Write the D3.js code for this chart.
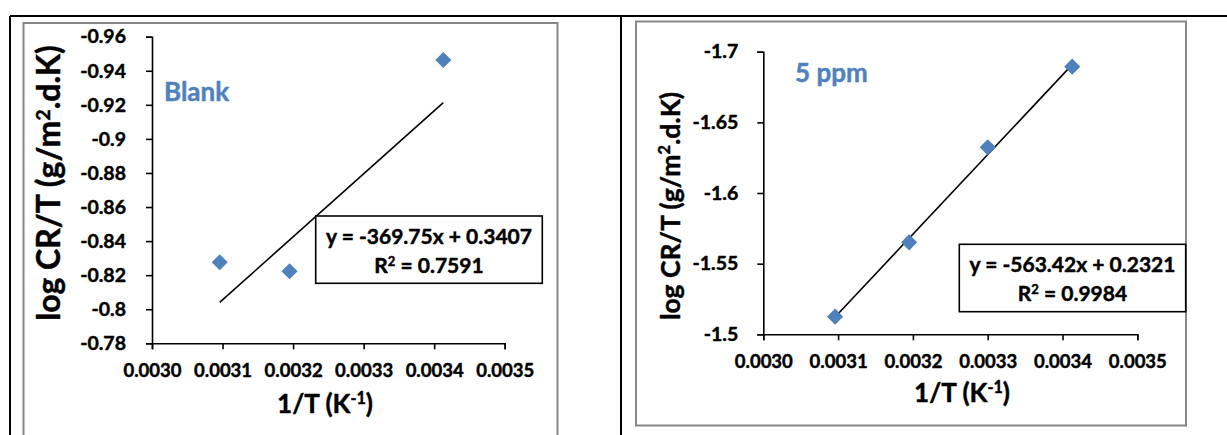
<!DOCTYPE html>
<html>
<head>
<meta charset="utf-8">
<script src="https://cdn.jsdelivr.net/npm/d3@7"></script>
<style>
  html, body { margin: 0; padding: 0; background: #fff; }
  svg { display: block; }
  text { font-family: Lato, "Open Sans", sans-serif; font-weight: 700; paint-order: stroke; stroke-linejoin: round; }
</style>
</head>
<body>
<svg id="chart" width="1227" height="435"></svg>
<script>
// Inverse temperature (1/T, K^-1) for 323, 313, 303 and 293 K
const invTemp = [0.003096, 0.003195, 0.003300, 0.003413];

// log(CR/T) readings for each solution
const blankLogCR = [-0.8276, -0.8223, -0.8499, -0.9463];
const ppm5LogCR  = [-1.5125, -1.5651, -1.6323, -1.6894];

// Linear trend lines (slope, intercept, R²)
const blankFit = { slope: -369.75, intercept: 0.3407, r2: "0.7591" };
const ppm5Fit  = { slope: -563.42, intercept: 0.2321, r2: "0.9984" };

// Axis ticks and their labels
const xTicks = [0.0030, 0.0031, 0.0032, 0.0033, 0.0034, 0.0035];
const xTickLabels = ["0.0030", "0.0031", "0.0032", "0.0033", "0.0034", "0.0035"];
const blankYTicks = [-0.96, -0.94, -0.92, -0.90, -0.88, -0.86, -0.84, -0.82, -0.80, -0.78];
const blankYTickLabels = ["-0.96", "-0.94", "-0.92", "-0.9", "-0.88", "-0.86", "-0.84", "-0.82", "-0.8", "-0.78"];
const ppm5YTicks = [-1.70, -1.65, -1.60, -1.55, -1.50];
const ppm5YTickLabels = ["-1.7", "-1.65", "-1.6", "-1.55", "-1.5"];

const BLUE = "#4f81bd";
const svg = d3.select("#chart");

// Table cell borders
svg.append("path")
  .attr("d", "M10,16H1227M10,16V435M621,16V435")
  .attr("fill", "none").attr("stroke", "#000").attr("stroke-width", 2);

// bold text with a thin outline in its own colour for a heavier weight
function heavy(sel, color) {
  return sel.attr("fill", color).attr("stroke", color).attr("stroke-width", 0.45);
}

function drawPanel(p) {
  const g = svg.append("g");

  // chart frame
  g.append("rect")
    .attr("x", p.frame[0]).attr("y", p.frame[1])
    .attr("width", p.frame[2]).attr("height", p.frame[3])
    .attr("fill", "#fff").attr("stroke", "#878787").attr("stroke-width", 2);

  const x = d3.scaleLinear().domain([0.0030, 0.0035]).range(p.xRange);
  const y = d3.scaleLinear().domain(p.yDomain).range(p.yRange);

  // y axis
  const yAxis = d3.axisLeft(y).tickValues(p.yTicks)
    .tickFormat((d, i) => p.yLabels[i]).tickSize(6).tickSizeOuter(6).tickPadding(p.yPad);
  const ya = g.append("g").attr("transform", `translate(${p.xRange[0]},0)`).call(yAxis);

  // x axis
  const xAxis = d3.axisBottom(x).tickValues(xTicks)
    .tickFormat((d, i) => xTickLabels[i]).tickSize(6).tickSizeOuter(6).tickPadding(p.xPad);
  const xa = g.append("g").attr("transform", `translate(0,${p.yRange[0]})`).call(xAxis);

  [ya, xa].forEach(a => {
    a.attr("font-family", null).attr("font-size", null);
    a.selectAll("path, line").attr("stroke", "#000").attr("stroke-width", 1.6);
  });
  heavy(ya.selectAll("text"), "#000").style("font-size", p.yTickFont + "px");
  heavy(xa.selectAll("text"), "#000").style("font-size", p.xTickFont + "px");

  // trend line over the measured range
  const xs = d3.extent(p.xs);
  const fit = v => p.fit.slope * v + p.fit.intercept;
  g.append("line")
    .attr("x1", x(xs[0])).attr("y1", y(fit(xs[0])))
    .attr("x2", x(xs[1])).attr("y2", y(fit(xs[1])))
    .attr("stroke", "#000").attr("stroke-width", 1.6);

  // data markers (diamonds)
  const diamond = d3.symbol().type(d3.symbolSquare).size(130);
  g.selectAll("path.pt").data(p.xs.map((v, i) => [v, p.ys[i]])).join("path")
    .attr("class", "pt")
    .attr("d", diamond)
    .attr("transform", d => `translate(${x(d[0])},${y(d[1])}) rotate(45)`)
    .attr("fill", BLUE);

  // series label
  heavy(g.append("text").attr("x", p.label[0]).attr("y", p.label[1]), BLUE)
    .style("font-size", p.labelFont + "px").text(p.name);

  // equation box
  const b = p.eqBox;
  g.append("rect").attr("x", b[0]).attr("y", b[1]).attr("width", b[2]).attr("height", b[3])
    .attr("fill", "#fff").attr("stroke", "#000").attr("stroke-width", 1.6);
  const cx = b[0] + b[2] / 2;
  heavy(g.append("text"), "#000").attr("x", cx).attr("y", b[1] + 28).attr("text-anchor", "middle")
    .style("font-size", p.eqFont + "px")
    .text(`y = ${p.fit.slope}x + ${p.fit.intercept}`);
  const r = heavy(g.append("text"), "#000").attr("x", cx).attr("y", b[1] + 57).attr("text-anchor", "middle")
    .style("font-size", p.eqFont + "px");
  r.append("tspan").text("R");
  r.append("tspan").attr("dy", -7).style("font-size", (p.eqFont * 0.62) + "px").text("2");
  r.append("tspan").attr("dy", 7).text(` = ${p.fit.r2}`);

  // x axis title
  const xt = heavy(g.append("text"), "#000").attr("x", p.xTitle[0]).attr("y", p.xTitle[1])
    .attr("text-anchor", "middle").style("font-size", p.titleFont + "px");
  xt.append("tspan").text("1/T (K");
  xt.append("tspan").attr("dy", -9).style("font-size", (p.titleFont * 0.62) + "px").text("-1");
  xt.append("tspan").attr("dy", 9).text(")");

  // y axis title
  const yt = heavy(g.append("text"), "#000")
    .attr("transform", `translate(${p.yTitle[0]},${p.yTitle[1]}) rotate(-90)`)
    .attr("text-anchor", "middle").style("font-size", p.yTitleFont + "px");
  yt.append("tspan").text("log CR/T (g/m");
  yt.append("tspan").attr("dy", -10).style("font-size", (p.yTitleFont * 0.62) + "px").text("2");
  yt.append("tspan").attr("dy", 10).text(".d.K)");
}

drawPanel({
  name: "Blank", xs: invTemp, ys: blankLogCR, fit: blankFit,
  frame: [23.5, 23, 534, 430],
  xRange: [152, 504.7], yRange: [343.3, 36.7], yDomain: [-0.78, -0.96],
  yTicks: blankYTicks, yLabels: blankYTickLabels,
  yTickFont: 19.5, xTickFont: 18.5, yPad: 20, xPad: 15,
  label: [164, 101], labelFont: 26,
  eqBox: [315.7, 216, 226.6, 67.3], eqFont: 21,
  xTitle: [325, 413], titleFont: 26,
  yTitle: [60, 183], yTitleFont: 32
});

drawPanel({
  name: "5 ppm", xs: invTemp, ys: ppm5LogCR, fit: ppm5Fit,
  frame: [636, 21.5, 550, 404],
  xRange: [763.3, 1137.3], yRange: [334.3, 51.7], yDomain: [-1.5, -1.7],
  yTicks: ppm5YTicks, yLabels: ppm5YTickLabels,
  yTickFont: 19.5, xTickFont: 18.5, yPad: 19, xPad: 15,
  label: [795, 82], labelFont: 26,
  eqBox: [959.3, 244.3, 226.4, 67.4], eqFont: 21,
  xTitle: [962, 402], titleFont: 26,
  yTitle: [680, 206], yTitleFont: 26.5
});
</script>
</body>
</html>
